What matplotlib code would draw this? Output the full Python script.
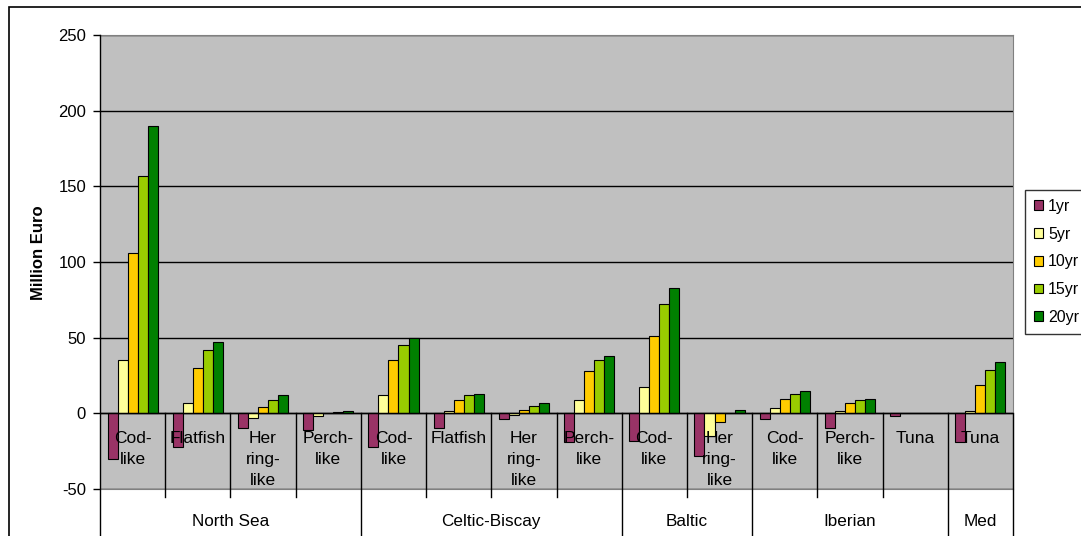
import matplotlib.pyplot as plt
import matplotlib.patches as mpatches
import numpy as np

plt.rcParams['font.family'] = ['Liberation Sans', 'DejaVu Sans']
plt.rcParams['axes.unicode_minus'] = False

# regions and the species groups inside each of them
regions = ['North Sea', 'Celtic-Biscay', 'Baltic', 'Iberian', 'Med']
region_sizes = [4, 4, 2, 3, 1]
species = ['Cod-\nlike', 'Flatfish', 'Her\nring-\nlike', 'Perch-\nlike',
           'Cod-\nlike', 'Flatfish', 'Her\nring-\nlike', 'Perch-\nlike',
           'Cod-\nlike', 'Her\nring-\nlike',
           'Cod-\nlike', 'Perch-\nlike', 'Tuna',
           'Tuna']

# Million Euro per horizon
series_names = ['1yr', '5yr', '10yr', '15yr', '20yr']
y1 = [-30, -22, -10, -11, -22, -10, -3.5, -19, -18, -28, -3.5, -10, -2, -19]
y5 = [35, 7, -3, -2, 12, 1.5, -1, 8.5, 17.5, -15, 3.5, 1.5, 0.3, 1.5]
y10 = [106, 30, 4, 0.5, 35, 8.5, 2.5, 28, 51, -5.5, 9.5, 7, 0.5, 19]
y15 = [157, 42, 9, 0.7, 45, 12, 5, 35, 72, 0, 13, 8.5, 0.5, 28.5]
y20 = [190, 47, 12, 1.5, 49.5, 13, 7, 38, 83, 2.5, 15, 9.5, 0.5, 34]
colors = ['#993366', '#FFFF99', '#FFCC00', '#99CC00', '#008000']

W, H = 1081, 536
fig = plt.figure(figsize=(W / 100, H / 100), dpi=100)
fig.patch.set_facecolor('white')

# outer chart border (cut off at right and bottom)
fig.patches.append(mpatches.Rectangle((9 / W, -0.1), 1.2, 1.1 - 7 / H,
                                      transform=fig.transFigure, fill=False,
                                      edgecolor='black', linewidth=1.2))

ax = fig.add_axes([100 / W, (H - 489) / H, 913 / W, (489 - 35) / H])
ax.set_facecolor('#C0C0C0')
ax.set_xlim(0, len(species))
ax.set_ylim(-50, 250)
ax.set_yticks(np.arange(-50, 251, 50))
ax.yaxis.grid(True, color='black', linewidth=1)
ax.set_axisbelow(True)
ax.set_xticks([])
ax.tick_params(axis='y', direction='out', length=5, width=1, pad=5,
               labelsize=12)
for s in ['top', 'right', 'bottom']:
    ax.spines[s].set_color('#808080')
ax.spines['left'].set_visible(False)

x = np.arange(len(species)) + 0.5
bw = 10 / 65
for k, (vals, c, name) in enumerate(zip([y1, y5, y10, y15, y20], colors, series_names)):
    ax.bar(x + (k - 2) * bw, vals, width=bw, color=c, edgecolor='black',
           linewidth=0.8, label=name, zorder=3)

# axis line at zero and left axis line
ax.axhline(0, color='black', linewidth=1, zorder=4)
ax.plot([0, 0], [250, -90], color='black', linewidth=1, clip_on=False, zorder=5)

# category separators and labels
bounds = np.cumsum([0] + region_sizes)
for i in range(1, len(species)):
    low = -90 if i in bounds else -55
    ax.plot([i, i], [0, low], color='black', linewidth=1, clip_on=False, zorder=4)
ax.plot([len(species)] * 2, [0, -90], color='black', linewidth=1, clip_on=False, zorder=4)

for xi, lab in zip(x, species):
    ax.text(xi, -11.5, lab, ha='center', va='top', fontsize=12.5, linespacing=1.5,
            clip_on=False, zorder=6)

for r, a, b in zip(regions, bounds[:-1], bounds[1:]):
    ax.text((a + b) / 2, -71.5, r, ha='center', va='center', fontsize=12.3,
            clip_on=False)

fig.text(38.5 / W, 1 - 253 / H, 'Million Euro', rotation=90, ha='center',
         va='center', fontsize=12, fontweight='bold')

handles = [mpatches.Patch(facecolor=c, edgecolor='black', linewidth=0.8) for c in colors]
leg = fig.legend(handles, series_names, loc='upper left',
                 bbox_to_anchor=(1025 / W, 1 - 190 / H), fontsize=11.5,
                 frameon=True, fancybox=False, edgecolor='black',
                 handlelength=0.55, handleheight=0.55, handletextpad=0.35,
                 labelspacing=0.8, borderpad=0.55, borderaxespad=0)
leg.get_frame().set_linewidth(1)

fig.savefig('out.png', dpi=100)
